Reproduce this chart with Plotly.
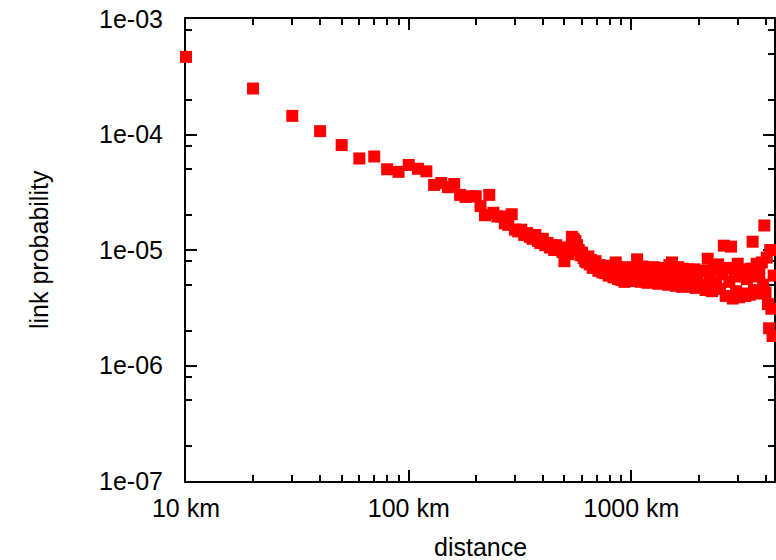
import plotly.graph_objects as go

# distance bins (km)
dist_a = list(range(10, 1001, 10))
dist_b = list(range(1020, 2001, 20))
dist_c = list(range(2050, 4451, 50))
distance = dist_a + dist_b + dist_c

prob_a = [
    4.7e-4, 2.5e-4, 1.45e-4, 1.07e-4, 8.1e-5, 6.2e-5, 6.45e-5, 5.0e-5, 4.75e-5, 5.45e-5,
    5.05e-5, 4.8e-5, 3.66e-5, 3.8e-5, 3.5e-5, 3.73e-5, 3.0e-5, 2.88e-5, 2.92e-5, 2.92e-5,
    2.4e-5, 2.0e-5, 3.0e-5, 2.1e-5, 1.95e-5, 1.95e-5, 1.7e-5, 1.65e-5, 2.04e-5, 1.5e-5,
    1.45e-5, 1.5e-5, 1.35e-5, 1.4e-5, 1.3e-5, 1.25e-5, 1.35e-5, 1.2e-5, 1.15e-5, 1.25e-5,
    1.1e-5, 1.15e-5, 1.05e-5, 1.1e-5, 1.0e-5, 1.1e-5, 1.02e-5, 1.05e-5, 9.6e-6, 8.0e-6,
    1.0e-5, 9.2e-6, 1.05e-5, 1.3e-5, 1.25e-5, 1.2e-5, 1.1e-5, 1.0e-5, 9.0e-6, 9.5e-6,
    8.5e-6, 8.0e-6, 7.8e-6, 8.8e-6, 7.5e-6, 8.2e-6, 7.0e-6, 7.6e-6, 8.0e-6, 7.2e-6,
    6.6e-6, 7.4e-6, 6.9e-6, 6.4e-6, 7.0e-6, 6.3e-6, 7.3e-6, 6.6e-6, 6.0e-6, 6.8e-6,
    6.2e-6, 7.2e-6, 5.8e-6, 6.5e-6, 7.8e-6, 6.1e-6, 5.6e-6, 6.9e-6, 6.3e-6, 5.5e-6,
    7.0e-6, 6.2e-6, 5.3e-6, 6.6e-6, 7.1e-6, 5.8e-6, 6.4e-6, 5.4e-6, 6.8e-6, 6.0e-6,
]
prob_b = [
    5.4e-6, 6.9e-6, 8.3e-6, 6.2e-6, 5.3e-6, 7.2e-6, 6.0e-6, 6.6e-6, 5.2e-6, 7.0e-6,
    6.3e-6, 5.4e-6, 7.1e-6, 5.9e-6, 6.6e-6, 5.1e-6, 6.8e-6, 6.1e-6, 5.3e-6, 7.0e-6,
    5.8e-6, 6.5e-6, 5.0e-6, 7.4e-6, 6.0e-6, 7.8e-6, 5.3e-6, 6.7e-6, 4.9e-6, 6.3e-6,
    7.1e-6, 5.2e-6, 6.5e-6, 4.8e-6, 6.9e-6, 5.5e-6, 6.2e-6, 4.9e-6, 6.8e-6, 5.4e-6,
    6.4e-6, 4.8e-6, 6.7e-6, 5.7e-6, 5.0e-6, 6.8e-6, 4.7e-6, 6.1e-6, 5.3e-6, 6.6e-6,
]
prob_c = [
    5.0e-6, 6.6e-6, 4.5e-6, 8.4e-6, 5.6e-6, 4.4e-6, 6.9e-6, 5.1e-6, 7.5e-6, 4.6e-6,
    6.2e-6, 1.09e-5, 4.0e-6, 7.0e-6, 5.3e-6, 1.07e-5, 3.8e-6, 6.5e-6, 4.4e-6, 7.6e-6,
    3.9e-6, 5.9e-6, 4.2e-6, 6.8e-6, 4.0e-6, 5.6e-6, 6.4e-6, 4.1e-6, 6.9e-6, 1.18e-5,
    4.5e-6, 5.9e-6, 7.6e-6, 4.3e-6, 6.3e-6, 4.2e-6, 7.8e-6, 5.0e-6, 1.63e-5, 4.3e-6,
    8.6e-6, 3.4e-6, 2.1e-6, 1.0e-5, 3.1e-6, 1.8e-6, 6.0e-6, 8.9e-6, 3.6e-6,
]
probability = prob_a + prob_b + prob_c

x_tickvals = [10, 100, 1000]
x_ticktext = ["10 km", "100 km", "1000 km"]
y_tickvals = [1e-7, 1e-6, 1e-5, 1e-4, 1e-3]
y_ticktext = ["1e-07", "1e-06", "1e-05", "1e-04", "1e-03"]
x_minor = [m * d for d in (10, 100, 1000) for m in range(2, 10)]
y_minor = [m * d for d in (1e-7, 1e-6, 1e-5, 1e-4) for m in (2, 5, 8)]

FONT = "Liberation Sans, Arial, sans-serif"

fig = go.Figure()
fig.add_trace(go.Scatter(
    x=distance, y=probability, mode="markers",
    marker=dict(symbol="square", size=12, color="#ff0000", line=dict(width=0)),
    cliponaxis=False, showlegend=False,
))

axis_common = dict(
    showline=True, linecolor="black", linewidth=2, mirror="ticks",
    ticks="inside", ticklen=11, tickwidth=1.5, tickcolor="black",
    showgrid=False, zeroline=False, layer="below traces",
    tickfont=dict(family=FONT, size=25, color="black"),
)

fig.update_xaxes(
    type="log", range=[1, 3.640], tickmode="array",
    tickvals=x_tickvals, ticktext=x_ticktext, ticklabelstandoff=4,
    minor=dict(tickmode="array", tickvals=x_minor, ticks="inside", ticklen=6,
               tickwidth=1.5, tickcolor="black", showgrid=False),
    **axis_common,
)
fig.update_yaxes(
    type="log", range=[-7, -3], tickmode="array",
    tickvals=y_tickvals, ticktext=y_ticktext, ticklabelstandoff=16,
    minor=dict(tickmode="array", tickvals=y_minor, ticks="inside", ticklen=6,
               tickwidth=1.5, tickcolor="black", showgrid=False),
    **axis_common,
)

fig.add_annotation(text="distance", xref="paper", yref="paper", x=0.5, y=0,
                   xanchor="center", yanchor="top", yshift=-50, showarrow=False,
                   font=dict(family=FONT, size=25, color="black"))
fig.add_annotation(text="link probability", xref="paper", yref="paper", x=0, y=0.5,
                   xanchor="right", yanchor="middle", xshift=-131, textangle=-90,
                   showarrow=False, font=dict(family=FONT, size=25, color="black"))

fig.update_layout(
    width=776, height=560,
    margin=dict(l=186, r=0, t=19, b=79),
    paper_bgcolor="white", plot_bgcolor="white",
)

fig.write_html("out.html")
